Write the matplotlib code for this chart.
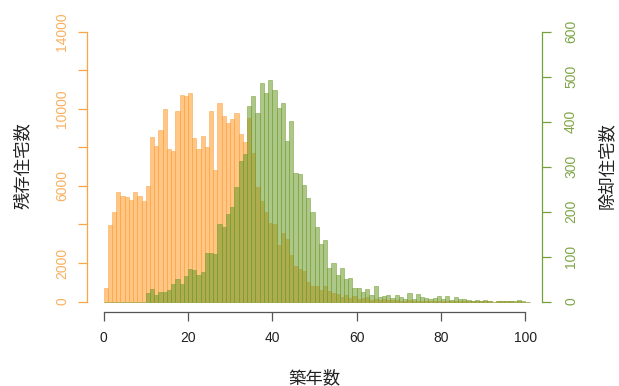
import numpy as np
import matplotlib
matplotlib.use('Agg')
import matplotlib.pyplot as plt

plt.rcParams['font.family'] = ['Liberation Sans', 'DejaVu Sans']
jp = ['Noto Sans CJK JP', 'DejaVu Sans']

# ------------------------------------------------
#           DATA  (築年数 0..100)
# ------------------------------------------------
age = np.arange(0, 101)

# 残存住宅数 (left axis)
remain = [700, 3980, 4620, 5700, 5480, 5410, 5270, 5700, 5480, 5220,
          5980, 8560, 8070, 8900, 9980, 7900, 7830, 9870, 10720, 10670,
          10820, 8470, 7900, 8610, 8040, 9890, 6830, 10290, 9630, 9280,
          9460, 9800, 8710, 8300, 9500, 7700, 5960, 5220, 4670, 4070,
          4030, 2940, 3550, 3230, 2420, 1850, 1700, 1560, 990, 780,
          780, 610, 830, 520, 430, 400, 210, 350, 175, 260,
          140, 175, 210, 90, 120, 90, 120, 90, 55, 60,
          40, 30, 70, 30, 50, 30, 30, 20, 20, 40,
          20, 30, 10, 20, 10, 10, 10, 5, 10, 5,
          10, 5, 0, 5, 5, 5, 5, 0, 5, 0, 0]

# 除却住宅数 (right axis)
removed = [0, 0, 0, 0, 0, 0, 0, 0, 0, 0,
           20, 28, 15, 21, 22, 26, 39, 50, 39, 57,
           72, 69, 59, 66, 107, 108, 106, 172, 166, 195,
           211, 254, 313, 327, 435, 456, 420, 485, 463, 493,
           470, 431, 442, 356, 402, 285, 284, 259, 230, 200,
           165, 127, 136, 75, 85, 59, 75, 50, 52, 30,
           30, 22, 27, 14, 35, 11, 13, 15, 7, 14,
           10, 5, 19, 5, 17, 9, 7, 5, 7, 13,
           5, 12, 3, 9, 5, 5, 4, 1, 4, 1,
           4, 1, 0, 1, 1, 2, 2, 1, 3, 1, 0]

left_ticks = [0, 2000, 4000, 6000, 8000, 10000, 12000, 14000]
left_labels = ['0', '2000', '', '6000', '', '10000', '', '14000']
right_ticks = [0, 100, 200, 300, 400, 500, 600]
x_ticks = [0, 20, 40, 60, 80, 100]

orange = '#F7A547'
green = '#72A03C'

# ------------------------------------------------
#           PLOT
# ------------------------------------------------
W, H = 619, 386
fig = plt.figure(figsize=(W / 100, H / 100), dpi=100)
l, r, t, b = 86.7, 542.3, 20.9, 312.3
ax = fig.add_axes([l / W, (H - b) / H, (r - l) / W, (b - t) / H])
ax2 = ax.twinx()

ax.bar(age, remain, width=1, align='edge', color=(1.0, 0.56, 0.05, 0.5),
       edgecolor=(0.98, 0.62, 0.22, 0.55), linewidth=0.6, zorder=1)
ax2.bar(age, removed, width=1, align='edge', color=(0.42, 0.6, 0.15, 0.55),
        edgecolor=(0.45, 0.62, 0.2, 0.6), linewidth=0.6)

ax.set_xlim(-4, 104)
ax.set_ylim(-560, 14560)
ax2.set_ylim(-24, 624)

for s in ['top', 'right']:
    ax.spines[s].set_visible(False)
for s in ['top', 'left', 'bottom']:
    ax2.spines[s].set_visible(False)

ax.spines['left'].set_bounds(0, 14000)
ax.spines['left'].set_color(orange)
ax.spines['bottom'].set_bounds(0, 100)
ax.spines['bottom'].set_color('#555555')
ax2.spines['right'].set_bounds(0, 600)
ax2.spines['right'].set_color(green)
for sp in list(ax.spines.values()) + list(ax2.spines.values()):
    sp.set_linewidth(0.9)

ax.set_xticks(x_ticks)
ax.tick_params(axis='x', length=6.7, width=0.9, color='#555555',
               labelsize=10, labelcolor='#222222', pad=7)
ax.set_yticks(left_ticks, left_labels, rotation=90, va='center')
ax.tick_params(axis='y', length=6.7, width=0.9, color=orange,
               labelsize=10, labelcolor='#F9B060', pad=6)
ax2.set_yticks(right_ticks, [str(v) for v in right_ticks], rotation=90, va='center')
ax2.tick_params(axis='y', length=6.7, width=0.9, color=green,
                labelsize=10, labelcolor='#7FA548', pad=9)

fig.text(0.5 * (l + r) / W, 1 - 378 / H, '築年数', family=jp, fontsize=12.5,
         ha='center', va='center', color='#222222')
fig.text(23 / W, 1 - 166 / H, '残存住宅数', family=jp, fontsize=12.5,
         rotation=90, ha='center', va='center', color='#222222')
fig.text(607 / W, 1 - 166 / H, '除却住宅数', family=jp, fontsize=12.5,
         rotation=90, ha='center', va='center', color='#222222')

fig.savefig('out.png', dpi=100)
